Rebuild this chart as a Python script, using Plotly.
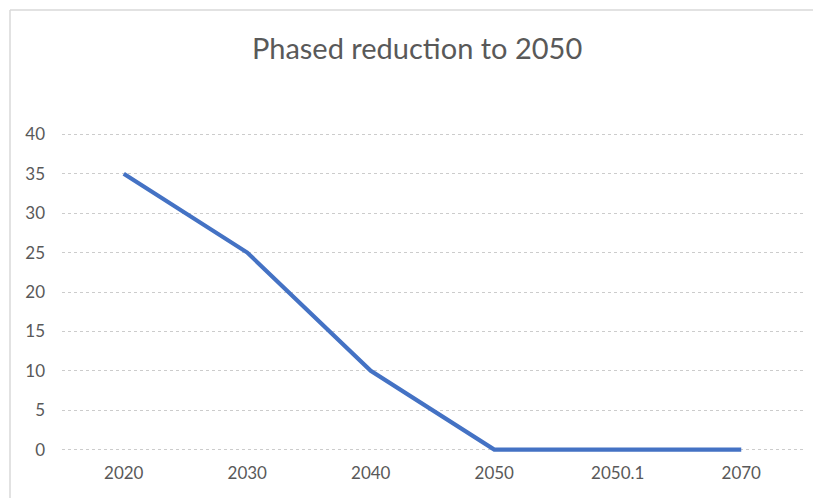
import plotly.graph_objects as go

# Phased reduction series
years = ["2020", "2030", "2040", "2050", "2050.1", "2070"]
values = [35, 25, 10, 0, 0, 0]
y_ticks = [0, 5, 10, 15, 20, 25, 30, 35, 40]

FONT = "Lato, Open Sans, sans-serif"
TEXT = "#595959"
GRID = "#cccccc"

fig = go.Figure(
    go.Scatter(
        x=years,
        y=values,
        mode="lines",
        line=dict(color="#4472C4", width=4.2),
        showlegend=False,
    )
)

W, H = 813, 498
ML, MR, MT, MB = 62, 10, 132, 46
pw, ph = W - ML - MR, H - MT - MB

fig.update_layout(
    width=W,
    height=H,
    margin=dict(l=ML, r=MR, t=MT, b=MB, pad=0),
    paper_bgcolor="white",
    plot_bgcolor="white",
    title=dict(
        text="Phased reduction to 2050",
        font=dict(family=FONT, size=29, color=TEXT),
        xref="container",
        x=0.513,
        xanchor="center",
        yref="container",
        y=1 - 49 / H,
        yanchor="middle",
    ),
    xaxis=dict(
        type="category",
        range=[-0.5, 5.5],
        showgrid=False,
        showline=False,
        zeroline=False,
        ticks="",
        tickfont=dict(family=FONT, size=17, color=TEXT),
        ticklabelstandoff=9,
    ),
    yaxis=dict(
        range=[-0.3, 40.3],
        tickvals=y_ticks,
        showgrid=True,
        gridcolor=GRID,
        griddash="dot",
        gridwidth=1,
        zeroline=False,
        showline=False,
        ticks="",
        tickfont=dict(family=FONT, size=17, color=TEXT),
        ticklabelstandoff=16,
    ),
    shapes=[
        # chart frame (left and top edges)
        dict(type="line", xref="paper", yref="paper",
             x0=(10 - ML) / pw, x1=(10 - ML) / pw,
             y0=1 + (MT - 10) / ph, y1=-(MB + 5) / ph,
             line=dict(color="#d9d9d9", width=1.5)),
        dict(type="line", xref="paper", yref="paper",
             x0=(10 - ML) / pw, x1=1 + (MR + 5) / pw,
             y0=1 + (MT - 10) / ph, y1=1 + (MT - 10) / ph,
             line=dict(color="#d9d9d9", width=1.5)),
    ],
)

fig.write_html("out.html")
